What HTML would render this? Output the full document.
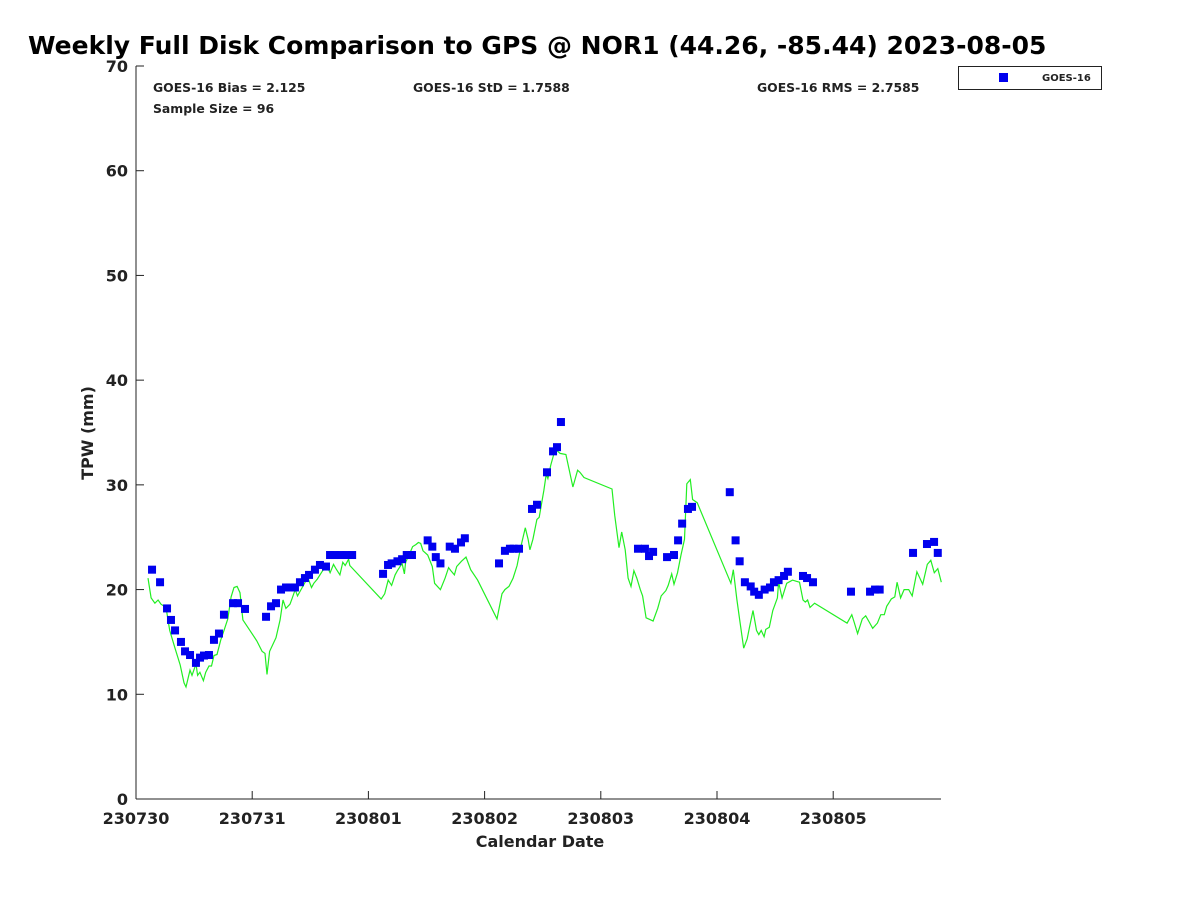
<!DOCTYPE html>
<html><head><meta charset="utf-8"><style>
body{margin:0;background:#fff}
svg text{font-family:"DejaVu Sans","Liberation Sans",sans-serif;font-weight:bold;fill:#222}
</style></head><body>
<svg id="c" width="1200" height="900" xmlns="http://www.w3.org/2000/svg">
<text x="28" y="54" font-size="25" fill="#000" style="fill:#000">Weekly Full Disk Comparison to GPS @ NOR1 (44.26, -85.44) 2023-08-05</text>
<g id="axes"></g>
<g id="series"></g>
<text x="153" y="92" font-size="12.4">GOES-16 Bias = 2.125</text>
<text x="413" y="92" font-size="12.4">GOES-16 StD = 1.7588</text>
<text x="757" y="92" font-size="12.4">GOES-16 RMS = 2.7585</text>
<text x="153" y="113" font-size="12.4">Sample Size = 96</text>
<g>
<rect x="958.5" y="66.5" width="143" height="23" fill="#fff" stroke="#222"/>
<rect x="999" y="73" width="9" height="9" fill="#0000ee"/>
<text x="1042" y="81" font-size="10">GOES-16</text>
</g>
<text x="540" y="847" font-size="16" text-anchor="middle">Calendar Date</text>
<text transform="translate(93,433) rotate(-90)" font-size="16" text-anchor="middle">TPW (mm)</text>
</svg>
<script>
const xTickLabels=["230730","230731","230801","230802","230803","230804","230805"];
const yTicks=[0,10,20,30,40,50,60,70];
const goesDay=[0.138,0.207,0.267,0.301,0.336,0.387,0.422,0.465,0.516,0.551,0.585,0.628,0.671,0.714,0.757,0.835,0.878,0.938,1.119,1.162,1.205,1.248,1.291,1.325,1.368,1.411,1.454,1.489,1.54,1.583,1.635,1.67,1.71,1.76,1.81,1.86,2.126,2.169,2.2,2.25,2.29,2.33,2.375,2.51,2.55,2.58,2.62,2.70,2.745,2.797,2.83,3.124,3.175,3.218,3.25,3.296,3.408,3.451,3.537,3.589,3.623,3.657,4.32,4.38,4.415,4.45,4.57,4.63,4.665,4.70,4.75,4.785,5.11,5.16,5.195,5.24,5.29,5.32,5.36,5.41,5.456,5.49,5.53,5.577,5.61,5.74,5.775,5.826,6.153,6.317,6.36,6.40,6.687,6.807,6.868,6.9];
const goesTpw=[21.9,20.7,18.2,17.1,16.1,15.0,14.1,13.75,13.0,13.5,13.7,13.75,15.2,15.8,17.6,18.7,18.7,18.15,17.4,18.4,18.7,20.0,20.2,20.2,20.2,20.7,21.1,21.4,21.9,22.35,22.2,23.3,23.3,23.3,23.3,23.3,21.5,22.35,22.5,22.7,22.9,23.3,23.3,24.7,24.1,23.1,22.5,24.1,23.9,24.5,24.9,22.5,23.7,23.9,23.9,23.9,27.7,28.1,31.2,33.2,33.6,36.0,23.9,23.9,23.2,23.6,23.1,23.3,24.7,26.3,27.7,27.9,29.3,24.7,22.7,20.7,20.3,19.8,19.5,20.0,20.2,20.7,20.9,21.3,21.7,21.3,21.1,20.7,19.8,19.8,20.0,20.0,23.5,24.35,24.55,23.5];
const gpsDay=[.103,.13,.163,.19,.215,.258,.29,.336,.38,.413,.43,.465,.482,.516,.53,.55,.58,.60,.628,.65,.671,.697,.73,.757,.79,.818,.843,.87,.895,.92,.98,1.04,1.085,1.11,1.127,1.15,1.205,1.24,1.265,1.29,1.325,1.345,1.37,1.39,1.43,1.46,1.48,1.51,1.53,1.56,1.60,1.64,1.67,1.70,1.72,1.755,1.78,1.80,1.83,1.84,2.11,2.14,2.17,2.20,2.23,2.25,2.29,2.31,2.32,2.35,2.38,2.41,2.43,2.45,2.47,2.51,2.55,2.57,2.62,2.66,2.69,2.71,2.74,2.76,2.80,2.84,2.88,2.94,3.107,3.13,3.15,3.175,3.21,3.245,3.28,3.31,3.35,3.374,3.39,3.416,3.45,3.47,3.51,3.53,3.545,3.57,3.60,3.62,3.65,3.70,3.76,3.80,3.82,3.855,4.096,4.12,4.157,4.18,4.21,4.235,4.26,4.285,4.31,4.34,4.36,4.39,4.43,4.45,4.49,4.52,4.56,4.58,4.61,4.63,4.66,4.69,4.72,4.74,4.77,4.79,4.83,5.12,5.14,5.17,5.195,5.23,5.26,5.28,5.31,5.34,5.36,5.38,5.405,5.42,5.45,5.48,5.52,5.53,5.56,5.60,5.65,5.68,5.71,5.74,5.76,5.78,5.80,5.84,6.12,6.16,6.18,6.21,6.25,6.28,6.31,6.34,6.38,6.41,6.44,6.46,6.50,6.53,6.55,6.58,6.61,6.65,6.68,6.72,6.77,6.81,6.84,6.87,6.90,6.93];
const gpsTpw=[21.1,19.2,18.7,19.0,18.6,18.3,16.1,14.4,12.8,11.1,10.7,12.3,11.8,12.9,11.8,12.1,11.3,12.1,12.7,12.7,13.7,13.8,15.2,16.1,17.2,19.3,20.2,20.3,19.7,17.1,16.1,15.1,14.1,13.9,11.9,14.1,15.4,17.1,19.0,18.2,18.6,19.2,20.0,19.4,20.2,20.8,21.1,20.2,20.6,21.0,21.7,22.3,21.6,22.4,22.0,21.4,22.6,22.3,22.9,22.3,19.1,19.6,20.9,20.4,21.4,21.8,22.5,21.5,22.6,23.3,24.1,24.3,24.5,24.4,23.7,23.3,22.2,20.6,20.0,21.1,22.1,21.8,21.4,22.2,22.7,23.1,21.9,20.9,17.2,18.5,19.6,20.0,20.3,21.1,22.3,24.0,25.9,24.8,23.8,24.8,26.7,26.9,29.5,31.0,30.6,31.9,33.1,33.3,33.0,32.9,29.8,31.4,31.2,30.7,29.6,27.1,24.0,25.5,23.8,21.1,20.3,21.8,21.1,20.0,19.4,17.3,17.1,17.0,18.2,19.4,19.9,20.4,21.5,20.5,21.6,23.3,24.8,30.1,30.5,28.6,28.3,20.6,21.9,19.1,17.1,14.4,15.3,16.4,18.0,16.1,15.7,16.1,15.5,16.2,16.4,18.0,19.2,20.7,19.2,20.6,20.9,20.8,20.7,19.0,18.8,19.0,18.3,18.7,16.8,17.6,16.9,15.8,17.2,17.5,16.9,16.3,16.8,17.6,17.6,18.4,19.1,19.3,20.7,19.2,20.0,20.0,19.4,21.7,20.5,22.4,22.8,21.6,22.0,20.7];

const NS="http://www.w3.org/2000/svg";
const X0=136,X1=941,Y0=799,Y1=66,DMAX=(941-136)/116.2;
const xs=d=>X0+d*(X1-X0)/DMAX;
const ys=v=>Y0-v*(Y0-Y1)/70;
function mk(t,a,p){const e=document.createElementNS(NS,t);for(const k in a)e.setAttribute(k,a[k]);p.appendChild(e);return e;}
const ax=document.getElementById('axes'),se=document.getElementById('series');
let e=mk('line',{x1:X0,y1:Y1,x2:X0,y2:Y0,stroke:'#222'},ax);


e=mk('line',{x1:X0,y1:Y0,x2:X1,y2:Y0,stroke:'#222'},ax);


yTicks.forEach(v=>{
 mk('line',{x1:X0,y1:ys(v),x2:X0+8,y2:ys(v),stroke:'#222'},ax);
 const t=mk('text',{x:X0-8,y:ys(v)+6,'font-size':16,'text-anchor':'end'},ax);
 t.textContent=v;
 
 
});
xTickLabels.forEach((l,i)=>{
 mk('line',{x1:xs(i),y1:Y0,x2:xs(i),y2:Y0-8,stroke:'#222'},ax);
 const t=mk('text',{x:xs(i),y:Y0+25,'font-size':16,'text-anchor':'middle'},ax);
 t.textContent=l;
 
 
});
const pl=mk('polyline',{points:gpsDay.map((d,i)=>xs(d).toFixed(1)+','+ys(gpsTpw[i]).toFixed(1)).join(' '),fill:'none',stroke:'#22ee22','stroke-width':1.2},se);


goesDay.forEach((d,i)=>{
 const r=mk('rect',{x:xs(d)-4,y:ys(goesTpw[i])-4,width:8,height:8,fill:'#0000ee'},se);
 
 
});
</script>
</body></html>
